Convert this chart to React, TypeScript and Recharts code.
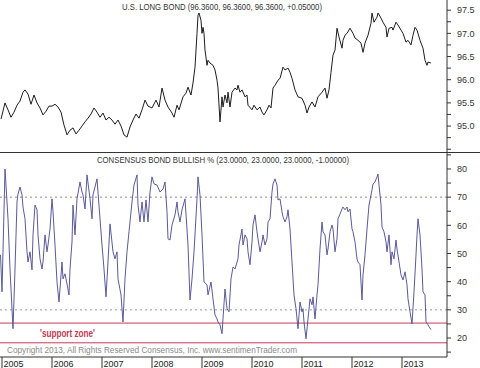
import { LineChart, Line, XAxis, YAxis, ReferenceLine } from 'recharts'

// U.S. Long Bond (top panel)
const bondDates = [
  2004.98, 2005.06, 2005.12, 2005.18, 2005.24, 2005.3, 2005.36, 2005.42, 2005.46,
  2005.52, 2005.58, 2005.64, 2005.7, 2005.76, 2005.82, 2005.88, 2005.94, 2006.0, 2006.06,
  2006.12, 2006.18, 2006.24, 2006.3, 2006.36, 2006.42, 2006.48, 2006.54, 2006.6, 2006.66,
  2006.72, 2006.78, 2006.84, 2006.9, 2006.96, 2007.02, 2007.08, 2007.14, 2007.2, 2007.26,
  2007.32, 2007.38, 2007.44, 2007.5, 2007.56, 2007.62, 2007.68, 2007.74, 2007.8, 2007.86,
  2007.92, 2008.0, 2008.08, 2008.14, 2008.2, 2008.26, 2008.32, 2008.4, 2008.44, 2008.5,
  2008.54, 2008.62, 2008.68, 2008.72, 2008.78, 2008.82, 2008.86, 2008.9, 2008.92, 2008.94,
  2008.98, 2009.0, 2009.02, 2009.04, 2009.06, 2009.1, 2009.12, 2009.16, 2009.22, 2009.26,
  2009.3, 2009.32, 2009.36, 2009.4, 2009.42, 2009.46, 2009.5, 2009.52, 2009.56, 2009.6,
  2009.66, 2009.7, 2009.72, 2009.76, 2009.8, 2009.86, 2009.9, 2009.92, 2010.0, 2010.04,
  2010.1, 2010.16, 2010.2, 2010.24, 2010.3, 2010.34, 2010.38, 2010.42, 2010.46, 2010.52,
  2010.56, 2010.62, 2010.66, 2010.72, 2010.76, 2010.8, 2010.86, 2010.92, 2011.0, 2011.06,
  2011.1, 2011.14, 2011.2, 2011.26, 2011.32, 2011.4, 2011.46, 2011.5, 2011.54, 2011.58,
  2011.62, 2011.66, 2011.7, 2011.74, 2011.8, 2011.82, 2011.86, 2011.9, 2011.96, 2012.02,
  2012.06, 2012.12, 2012.18, 2012.22, 2012.26, 2012.32, 2012.38, 2012.4, 2012.44, 2012.5,
  2012.52, 2012.58, 2012.62, 2012.68, 2012.7, 2012.74, 2012.8, 2012.82, 2012.88, 2012.92,
  2012.98, 2013.02, 2013.08, 2013.12, 2013.18, 2013.22, 2013.26, 2013.3, 2013.36, 2013.42,
  2013.46, 2013.5, 2013.52, 2013.58,
]
const bondValues = [
  95.15, 95.5, 95.35, 95.19, 95.3, 95.45, 95.54, 95.73, 95.78,
  95.69, 95.47, 95.67, 95.5, 95.39, 95.24, 95.32, 95.43, 95.43, 95.47,
  95.41, 95.3, 95.02, 94.81, 94.91, 94.96, 94.83, 94.91, 95.0, 95.09,
  95.17, 95.26, 95.39, 95.3, 95.19, 95.28, 95.13, 95.19, 95.13, 95.04,
  95.13, 95.0, 94.81, 94.76, 94.98, 95.13, 95.26, 95.17, 95.35, 95.56,
  95.43, 95.39, 95.56, 95.41, 95.82, 95.56, 95.41, 95.28, 95.19, 95.45,
  95.35, 95.63, 95.71, 95.84, 95.67, 95.93, 96.27, 97.0, 97.39, 97.44,
  97.28, 97.0, 97.13, 97.0, 96.64, 96.31, 96.42, 96.36, 96.31, 96.21,
  95.99, 95.82, 95.09, 95.63, 95.41, 95.67, 95.5, 95.73, 95.41, 95.73,
  95.82, 95.78, 95.88, 95.73, 95.78, 95.63, 95.67, 95.45, 95.35, 95.45,
  95.35, 95.41, 95.3, 95.24, 95.35, 95.45, 95.39, 95.82, 95.88, 95.99,
  96.03, 96.27, 96.21, 96.25, 96.16, 96.03, 95.78, 95.63, 95.6, 95.45,
  95.28, 95.41, 95.52, 95.41, 95.63, 95.73, 95.82, 95.6, 95.78, 96.16,
  96.53, 96.64, 97.11, 96.92, 96.68, 96.85, 96.96, 97.0, 97.11, 97.0,
  96.9, 96.85, 96.79, 96.59, 96.79, 96.96, 97.22, 97.44, 97.24, 97.35,
  97.44, 97.33, 97.24, 97.13, 96.92, 97.11, 97.13, 97.07, 97.24, 97.18,
  97.07, 97.0, 96.81, 96.85, 96.75, 96.96, 97.13, 97.07, 96.85, 96.68,
  96.42, 96.31, 96.38, 96.36,
]

// Consensus Bond Bullish % (bottom panel)
const bullDates = [
  2004.97, 2005.0, 2005.06, 2005.12, 2005.16, 2005.22, 2005.26, 2005.3, 2005.32, 2005.36,
  2005.4, 2005.42, 2005.46, 2005.5, 2005.52, 2005.56, 2005.6, 2005.62, 2005.66, 2005.7,
  2005.72, 2005.76, 2005.8, 2005.82, 2005.86, 2005.9, 2005.92, 2005.96, 2006.0, 2006.02,
  2006.06, 2006.1, 2006.14, 2006.2, 2006.22, 2006.26, 2006.3, 2006.34, 2006.36, 2006.4,
  2006.42, 2006.46, 2006.5, 2006.56, 2006.6, 2006.62, 2006.66, 2006.7, 2006.76, 2006.8,
  2006.82, 2006.9, 2006.96, 2007.0, 2007.04, 2007.08, 2007.12, 2007.16, 2007.22, 2007.26,
  2007.3, 2007.32, 2007.38, 2007.42, 2007.46, 2007.5, 2007.54, 2007.6, 2007.64, 2007.7,
  2007.72, 2007.76, 2007.8, 2007.84, 2007.88, 2007.92, 2007.96, 2008.0, 2008.04, 2008.1,
  2008.16, 2008.22, 2008.26, 2008.3, 2008.32, 2008.36, 2008.4, 2008.46, 2008.5, 2008.52,
  2008.56, 2008.6, 2008.66, 2008.72, 2008.76, 2008.8, 2008.84, 2008.9, 2008.92, 2008.96,
  2009.0, 2009.04, 2009.1, 2009.12, 2009.18, 2009.22, 2009.26, 2009.3, 2009.32, 2009.36,
  2009.4, 2009.42, 2009.46, 2009.5, 2009.54, 2009.58, 2009.62, 2009.66, 2009.72, 2009.74,
  2009.8, 2009.82, 2009.86, 2009.9, 2009.92, 2009.96, 2010.0, 2010.02, 2010.06, 2010.1,
  2010.12, 2010.16, 2010.2, 2010.22, 2010.26, 2010.3, 2010.32, 2010.36, 2010.4, 2010.42,
  2010.46, 2010.5, 2010.52, 2010.56, 2010.6, 2010.62, 2010.66, 2010.7, 2010.72, 2010.76,
  2010.8, 2010.84, 2010.88, 2010.92, 2010.96, 2011.0, 2011.02, 2011.04, 2011.08, 2011.12,
  2011.16, 2011.2, 2011.22, 2011.26, 2011.3, 2011.32, 2011.36, 2011.4, 2011.42, 2011.46,
  2011.5, 2011.52, 2011.56, 2011.6, 2011.62, 2011.66, 2011.7, 2011.72, 2011.76, 2011.8,
  2011.82, 2011.86, 2011.9, 2011.92, 2011.96, 2012.0, 2012.02, 2012.06, 2012.1, 2012.12,
  2012.16, 2012.2, 2012.22, 2012.26, 2012.3, 2012.34, 2012.4, 2012.42, 2012.46, 2012.5,
  2012.52, 2012.54, 2012.58, 2012.6, 2012.64, 2012.68, 2012.7, 2012.74, 2012.78, 2012.8,
  2012.84, 2012.88, 2012.9, 2012.94, 2012.98, 2013.02, 2013.06, 2013.1, 2013.12, 2013.16,
  2013.2, 2013.24, 2013.28, 2013.3, 2013.32, 2013.36, 2013.4, 2013.42, 2013.46, 2013.48,
  2013.52, 2013.54, 2013.58,
]
const bullValues = [
  49.5, 36.4, 80, 62.3, 44.5, 23.3, 44.5, 68.3, 71.1, 73.6,
  70.8, 66.5, 62.3, 50.6, 47, 50.6, 44.2, 56.6, 67.2, 65.5,
  56.6, 48.1, 44.5, 47, 56.6, 50.6, 53, 58.7, 69.4, 64.8,
  53, 39.9, 32.8, 47, 41, 42.8, 39.2, 35.3, 44.5, 54.1,
  67.2, 56.6, 69.4, 75.4, 71.8, 70.8, 65.8, 77.9, 69.4, 62.3,
  70.8, 76.5, 62.3, 53, 44.5, 34.6, 47, 60.5, 50.6, 48.1,
  50.6, 41, 35.3, 25.7, 41, 50.6, 57.7, 68.3, 74.3, 77.9,
  67.2, 61.2, 68.3, 61.2, 69, 61.2, 71.8, 77.2, 74.7, 74.3,
  71.8, 72.9, 75.4, 64.8, 55.2, 54.8, 60.1, 63.7, 68.3, 64.8,
  61.2, 65.5, 69.4, 53, 33.5, 41, 50.6, 69.4, 77.2, 70.8,
  56.6, 39.9, 38.9, 35.3, 39.9, 33.9, 28.2, 26.8, 25.7, 24.7,
  21.5, 26.8, 37.4, 30.4, 29.3, 41, 45.2, 44.5, 48.1, 53,
  58.7, 53, 56.6, 55.2, 50.6, 46, 54.1, 60.1, 63.7, 57.7,
  55.2, 50.6, 54.1, 56.6, 53, 55.2, 61.2, 62.3, 71.8, 74.7,
  76.5, 74.3, 69, 69.4, 64.8, 63, 61.2, 63, 65.5, 58.7,
  47, 35.3, 30.4, 23.3, 32.8, 29.3, 30.4, 25.7, 19.7, 26.8,
  33.9, 31.8, 34.6, 26.8, 35.3, 38.9, 51.6, 61.2, 57.7, 56.6,
  49.5, 51.6, 57.7, 60.1, 58.7, 50.6, 55.2, 62.3, 64, 65.8,
  66.5, 65.5, 66.5, 64.8, 65.8, 58.7, 57.7, 54.1, 48.1, 47,
  46, 33.5, 42.4, 49.5, 58.7, 67.2, 72.6, 74.7, 75.4, 77.2,
  78.2, 74.3, 67.2, 59.4, 57.7, 54.1, 50.6, 56.6, 46, 50.6,
  48.1, 54.8, 51.6, 47, 42.4, 40.6, 43.5, 38.9, 33.9, 29.3,
  25, 36.4, 49.5, 56.6, 62.3, 56.6, 44.5, 36.4, 35.3, 25.7,
  24.7, 24, 23,
]

const yearTicks = [2005, 2006, 2007, 2008, 2009, 2010, 2011, 2012, 2013]
const bondTicks = [94.5, 94.75, 95, 95.25, 95.5, 95.75, 96, 96.25, 96.5, 96.75, 97, 97.25, 97.5]
const bondLabels = [95, 95.5, 96, 96.5, 97, 97.5]
const bullTicks = [15, 20, 25, 30, 35, 40, 45, 50, 55, 60, 65, 70, 75, 80, 85]
const bullLabels = [20, 30, 40, 50, 60, 70, 80]

const bondData = bondDates.map((t, i) => ({ t, v: bondValues[i] }))
const bullData = bullDates.map((t, i) => ({ t, v: bullValues[i] }))

const FONT = 'Arial, "Liberation Sans", sans-serif'
const X_DOMAIN = [2004.96, 2013.9]

function YearTick({ x, y, payload }: any) {
  return (
    <g>
      <line x1={x} y1={y} x2={x} y2={y + 11} stroke="#333" />
      <text x={x + 1.5} y={y + 9.5} fontSize={9} fill="#222" fontFamily={FONT}>
        {payload.value}
      </text>
    </g>
  )
}

export default function App() {
  return (
    <div
      style={{
        position: 'absolute',
        left: 0,
        top: 0,
        width: 480,
        height: 368,
        background: '#fff',
        fontFamily: FONT,
      }}
    >
      <div style={{ position: 'absolute', left: 0, top: 0 }}>
        <LineChart width={480} height={152} data={bondData} margin={{ top: 0, right: 0, bottom: 0, left: 0 }}>
          <XAxis dataKey="t" type="number" domain={X_DOMAIN} allowDataOverflow hide />
          <YAxis
            orientation="right"
            width={33}
            domain={[94.44, 97.72]}
            allowDataOverflow
            ticks={bondTicks}
            interval={0}
            tickSize={4}
            tickMargin={6}
            stroke="#333"
            tick={{ fontSize: 9, fill: '#333', fontFamily: FONT }}
            tickFormatter={(v: number) => (bondLabels.includes(v) ? v.toFixed(1) : '')}
          />
          <Line dataKey="v" type="linear" stroke="#1c1c1c" strokeWidth={1} dot={false} activeDot={false} isAnimationActive={false} />
        </LineChart>
      </div>

      <div style={{ position: 'absolute', left: 0, top: 152 }}>
        <LineChart width={480} height={216} data={bullData} margin={{ top: 1, right: 0, bottom: 0, left: 0 }}>
          <XAxis
            dataKey="t"
            type="number"
            domain={X_DOMAIN}
            allowDataOverflow
            ticks={yearTicks}
            interval={0}
            height={11}
            tickSize={0}
            tickMargin={0}
            tickLine={false}
            stroke="#333"
            tick={<YearTick />}
          />
          <YAxis
            orientation="right"
            width={33}
            domain={[13.26, 85.67]}
            allowDataOverflow
            ticks={bullTicks}
            interval={0}
            tickSize={4}
            tickMargin={6}
            stroke="#333"
            tick={{ fontSize: 9, fill: '#333', fontFamily: FONT }}
            tickFormatter={(v: number) => (bullLabels.includes(v) ? String(v) : '')}
          />
          <ReferenceLine y={70} stroke="#a08585" strokeDasharray="2 3" />
          <ReferenceLine y={30} stroke="#9a9a9a" strokeDasharray="2 3" />
          <ReferenceLine y={25.3} stroke="#c83a5a" />
          <ReferenceLine y={18.3} stroke="#c83a5a" />
          <Line dataKey="v" type="linear" stroke="#5a5a98" strokeWidth={1} dot={false} activeDot={false} isAnimationActive={false} />
        </LineChart>
      </div>

      <svg
        width={480}
        height={368}
        style={{ position: 'absolute', left: 0, top: 0, pointerEvents: 'none' }}
      >
        <line x1={0} y1={152.5} x2={480} y2={152.5} stroke="#333" />
        <text x={122} y={10} fontSize={9} fill="#333" fontFamily={FONT} textLength={200} lengthAdjust="spacingAndGlyphs">
          U.S. LONG BOND (96.3600, 96.3600, 96.3600, +0.05000)
        </text>
        <text x={97} y={163} fontSize={9} fill="#333" fontFamily={FONT} textLength={252} lengthAdjust="spacingAndGlyphs">
          CONSENSUS BOND BULLISH % (23.0000, 23.0000, 23.0000, -1.00000)
        </text>
        <text x={40} y={336.5} fontSize={10} fill="#c03a55" fontFamily={FONT} fontWeight="bold" textLength={55} lengthAdjust="spacingAndGlyphs">
          'support zone'
        </text>
        <text x={7} y={353} fontSize={9} fill="#8a8a8a" fontFamily={FONT} textLength={290} lengthAdjust="spacingAndGlyphs">
          Copyright 2013, All Rights Reserved  Consensus, Inc.  www.sentimenTrader.com
        </text>
      </svg>
    </div>
  )
}
